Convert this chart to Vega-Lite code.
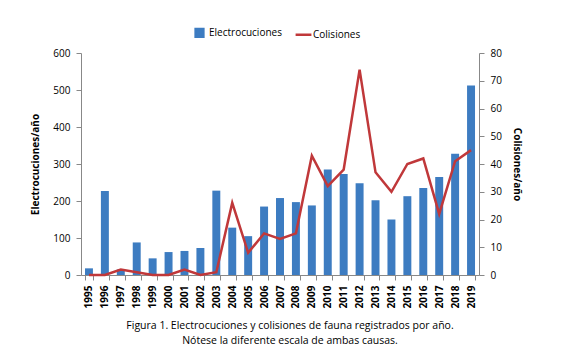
{
  "$schema": "https://vega.github.io/schema/vega-lite/v6.json",
  "width": 398,
  "height": 222,
  "padding": {"left": 30, "top": 27, "right": 5, "bottom": 5},
  "background": "white",
  "config": {
    "font": "Open Sans",
    "view": {"stroke": null},
    "axis": {"grid": false, "domainColor": "#888888", "tickColor": "#888888", "labelColor": "#000000", "labelFontSize": 10, "titleFontSize": 10, "titleFontWeight": "bold", "labelFont": "Open Sans", "titleFont": "Open Sans"}
  },
  "title": {
    "text": ["Figura 1. Electrocuciones y colisiones de fauna registrados por año.", "Nótese la diferente escala de ambas causas."],
    "orient": "bottom",
    "anchor": "middle",
    "fontSize": 10.5,
    "fontWeight": "normal",
    "font": "Open Sans",
    "offset": 13,
    "dx": 10,
    "lineHeight": 15
  },
  "data": {
    "values": [
      {"year": "1995", "elec": 18, "col": 0},
      {"year": "1996", "elec": 227, "col": 0},
      {"year": "1997", "elec": 15, "col": 2},
      {"year": "1998", "elec": 88, "col": 1},
      {"year": "1999", "elec": 45, "col": 0},
      {"year": "2000", "elec": 62, "col": 0},
      {"year": "2001", "elec": 65, "col": 2},
      {"year": "2002", "elec": 73, "col": 0},
      {"year": "2003", "elec": 228, "col": 1},
      {"year": "2004", "elec": 128, "col": 26},
      {"year": "2005", "elec": 105, "col": 8},
      {"year": "2006", "elec": 185, "col": 15},
      {"year": "2007", "elec": 208, "col": 13},
      {"year": "2008", "elec": 197, "col": 15},
      {"year": "2009", "elec": 188, "col": 43},
      {"year": "2010", "elec": 285, "col": 32},
      {"year": "2011", "elec": 273, "col": 38},
      {"year": "2012", "elec": 248, "col": 74},
      {"year": "2013", "elec": 202, "col": 37},
      {"year": "2014", "elec": 150, "col": 30},
      {"year": "2015", "elec": 213, "col": 40},
      {"year": "2016", "elec": 235, "col": 42},
      {"year": "2017", "elec": 265, "col": 22},
      {"year": "2018", "elec": 328, "col": 41},
      {"year": "2019", "elec": 512, "col": 45}
    ]
  },
  "encoding": {
    "x": {
      "field": "year",
      "type": "nominal",
      "sort": null,
      "scale": {"paddingInner": 0.5, "paddingOuter": 0.25},
      "axis": {"title": null, "labelAngle": -90, "tickBand": "extent", "labelPadding": 5, "labelFontWeight": "bold", "labelBaseline": "middle", "labelAlign": "right"}
    }
  },
  "layer": [
    {
      "mark": {"type": "bar"},
      "encoding": {
        "y": {
          "field": "elec",
          "type": "quantitative",
          "scale": {"domain": [0, 600]},
          "axis": {"title": "Electrocuciones/año", "values": [0, 100, 200, 300, 400, 500, 600], "titlePadding": 12, "labelPadding": 6}
        },
        "color": {
          "datum": "Electrocuciones",
          "type": "nominal",
          "scale": {"domain": ["Electrocuciones", "Colisiones"], "range": ["#3D7CC1", "#C0383A"]},
          "legend": {
            "title": null,
            "orient": "none",
            "legendX": 113,
            "legendY": -26,
            "direction": "horizontal",
            "labelFontSize": 10,
            "labelFont": "Open Sans",
            "symbolSize": 60,
            "columnPadding": 8,
            "encode": {
              "symbols": {
                "update": {
                  "shape": {"signal": "datum.value === 'Colisiones' ? 'stroke' : 'square'"},
                  "strokeWidth": {"value": 2.5},
                  "size": {"signal": "datum.value === 'Colisiones' ? 250 : 60"}
                }
              }
            }
          }
        }
      }
    },
    {
      "mark": {"type": "line", "strokeWidth": 2.5},
      "encoding": {
        "y": {
          "field": "col",
          "type": "quantitative",
          "scale": {"domain": [0, 80]},
          "axis": {"orient": "right", "title": "Colisiones/año", "values": [0, 10, 20, 30, 40, 50, 60, 70, 80], "titlePadding": 10, "labelPadding": 6}
        },
        "color": {"datum": "Colisiones", "type": "nominal"}
      }
    }
  ],
  "resolve": {"scale": {"y": "independent"}}
}
